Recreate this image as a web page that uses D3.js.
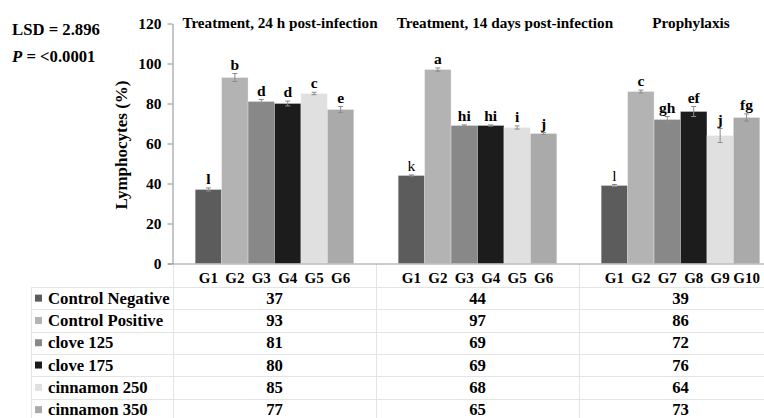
<!DOCTYPE html>
<html>
<head>
<meta charset="utf-8">
<script src="https://cdn.jsdelivr.net/npm/d3@7"></script>
<style>
  html, body { margin: 0; padding: 0; background: #fff; }
  svg { display: block; font-family: "Liberation Serif", "Times New Roman", serif; font-weight: bold; }
</style>
</head>
<body>
<svg id="chart" width="764" height="418"></svg>
<script>
// Experimental groups (one per panel) and the six treatment series
const groups = ["Treatment, 24 h post-infection", "Treatment, 14 days post-infection", "Prophylaxis"];
const series = ["Control Negative", "Control Positive", "clove 125", "clove 175", "cinnamon 250", "cinnamon 350"];
const colors = ["#5c5c5c", "#b3b3b3", "#888888", "#1c1c1c", "#e0e0e0", "#aaaaaa"];

// Lymphocytes (%) per series, one value per group
const controlNegative = [37, 44, 39];
const controlPositive = [93, 97, 86];
const clove125 = [81, 69, 72];
const clove175 = [80, 69, 76];
const cinnamon250 = [85, 68, 64];
const cinnamon350 = [77, 65, 73];
const values = [controlNegative, controlPositive, clove125, clove175, cinnamon250, cinnamon350];

// Standard errors per series, one per group
const errNeg = [0.8, 0.3, 0.5];
const errPos = [2.0, 0.8, 0.7];
const errC125 = [1.0, 0.3, 1.5];
const errC175 = [1.2, 0.3, 2.5];
const errCin250 = [0.6, 0.8, 3.5];
const errCin350 = [1.5, 0.5, 1.8];
const errors = [errNeg, errPos, errC125, errC175, errCin250, errCin350];

// Significance letters, per group in series order
const letters = [
  ["l", "b", "d", "d", "c", "e"],
  ["k", "a", "hi", "hi", "i", "j"],
  ["l", "c", "gh", "ef", "j", "fg"]
];
const boldLetter = [
  [true, true, true, true, true, true],
  [false, true, true, true, true, true],
  [false, true, true, true, true, true]
];

// Bar labels on the category axis
const barLabels = [
  ["G1", "G2", "G3", "G4", "G5", "G6"],
  ["G1", "G2", "G3", "G4", "G5", "G6"],
  ["G1", "G2", "G7", "G8", "G9", "G10"]
];
const yTicks = [0, 20, 40, 60, 80, 100, 120];
const statLines = ["LSD = 2.896", "= <0.0001"];

const svg = d3.select("#chart");

// Layout
const plotLeft = 173, plotRight = 782, yTop = 23.5, yBottom = 263.5;
const tableLeft = 31, rowH = 22.3, tableTop = 287;

const x0 = d3.scaleBand().domain(groups).range([plotLeft, plotRight]).paddingInner(0).paddingOuter(0);
const x1 = d3.scaleBand().domain(series).range([0, x0.bandwidth()]).paddingInner(0).paddingOuter(0.84);
const y = d3.scaleLinear().domain([0, 120]).range([yBottom, yTop]);

// Data table grid
const grid = svg.append("g").attr("stroke", "#e4e4e4").attr("stroke-width", 1);
d3.range(series.length + 1).forEach(i => {
  const yy = Math.round(tableTop + i * rowH) + 0.5;
  grid.append("line").attr("x1", tableLeft).attr("x2", 764).attr("y1", yy).attr("y2", yy);
});
grid.append("line").attr("x1", tableLeft + 0.5).attr("x2", tableLeft + 0.5)
  .attr("y1", tableTop).attr("y2", 418);
groups.forEach(g => {
  const xx = Math.round(x0(g)) + 0.5;
  grid.append("line").attr("x1", xx).attr("x2", xx).attr("y1", yBottom).attr("y2", 418);
});

// Bars
const barG = svg.append("g");
groups.forEach((g, gi) => {
  series.forEach((s, si) => {
    const v = values[si][gi];
    const bx = x0(g) + x1(s);
    barG.append("rect")
      .attr("x", bx).attr("y", y(v))
      .attr("width", x1.bandwidth()).attr("height", y(0) - y(v))
      .attr("fill", colors[si])
      .attr("stroke", "#ffffff").attr("stroke-opacity", 0.35).attr("stroke-width", 0.8);
  });
});

// Error bars
const errG = svg.append("g").attr("stroke", "#8c8c8c").attr("stroke-width", 1).attr("fill", "none");
groups.forEach((g, gi) => {
  series.forEach((s, si) => {
    const v = values[si][gi], e = errors[si][gi];
    const cx = x0(g) + x1(s) + x1.bandwidth() / 2;
    errG.append("line").attr("x1", cx).attr("x2", cx).attr("y1", y(v + e)).attr("y2", y(v - e));
    [v + e, v - e].forEach(t => errG.append("line")
      .attr("x1", cx - 2.5).attr("x2", cx + 2.5).attr("y1", y(t)).attr("y2", y(t)));
  });
});

// Significance letters
groups.forEach((g, gi) => {
  series.forEach((s, si) => {
    const v = values[si][gi], e = errors[si][gi];
    svg.append("text")
      .attr("x", x0(g) + x1(s) + x1.bandwidth() / 2)
      .attr("y", y(v + e) - 4)
      .attr("text-anchor", "middle")
      .attr("font-size", 15.5)
      .attr("font-weight", boldLetter[gi][si] ? "bold" : "normal")
      .text(letters[gi][si]);
  });
});

// Category axis line
svg.append("line").attr("x1", plotLeft - 5).attr("x2", plotRight)
  .attr("y1", yBottom + 0.5).attr("y2", yBottom + 0.5)
  .attr("stroke", "#9a9a9a").attr("stroke-width", 1);

// Bar labels
groups.forEach((g, gi) => {
  series.forEach((s, si) => {
    svg.append("text")
      .attr("x", x0(g) + x1(s) + x1.bandwidth() / 2)
      .attr("y", 283)
      .attr("text-anchor", "middle")
      .attr("font-size", 15)
      .text(barLabels[gi][si]);
  });
});

// Value axis
const yAxis = svg.append("g")
  .attr("transform", `translate(${plotLeft - 0.5},0)`)
  .call(d3.axisLeft(y).tickValues(yTicks).tickSize(5).tickSizeOuter(0).tickPadding(6));
yAxis.select(".domain").attr("stroke", "#8c8c8c");
yAxis.selectAll(".tick line").attr("stroke", "#8c8c8c");
yAxis.selectAll(".tick text")
  .attr("font-family", "'Liberation Serif', 'Times New Roman', serif")
  .attr("font-weight", "bold").attr("font-size", 15.5).attr("fill", "#000");

svg.append("text")
  .attr("transform", `translate(127,145) rotate(-90)`)
  .attr("text-anchor", "middle")
  .attr("font-size", 17)
  .text("Lymphocytes (%)");

// Panel titles
const titleX = [280, 505, 691];
groups.forEach((g, gi) => {
  svg.append("text")
    .attr("x", titleX[gi]).attr("y", 27.5)
    .attr("text-anchor", "middle")
    .attr("font-size", 15.2)
    .text(g);
});

// Statistics note
svg.append("text").attr("x", 12).attr("y", 34.5).attr("font-size", 16.7).text(statLines[0]);
const pLine = svg.append("text").attr("x", 12).attr("y", 61.5).attr("font-size", 16.7);
pLine.append("tspan").attr("font-style", "italic").text("P");
pLine.append("tspan").text(" " + statLines[1]);

// Data table: legend keys, series names and values
series.forEach((s, si) => {
  const cy = tableTop + si * rowH + rowH / 2;
  svg.append("rect").attr("x", 35).attr("y", cy - 3.5).attr("width", 7).attr("height", 7)
    .attr("fill", colors[si]);
  svg.append("text").attr("x", 48).attr("y", cy + 5.5).attr("font-size", 16.7).text(s);
  groups.forEach((g, gi) => {
    svg.append("text")
      .attr("x", x0(g) + x0.bandwidth() / 2)
      .attr("y", cy + 5.5)
      .attr("text-anchor", "middle")
      .attr("font-size", 16.7)
      .text(values[si][gi]);
  });
});
</script>
</body>
</html>
